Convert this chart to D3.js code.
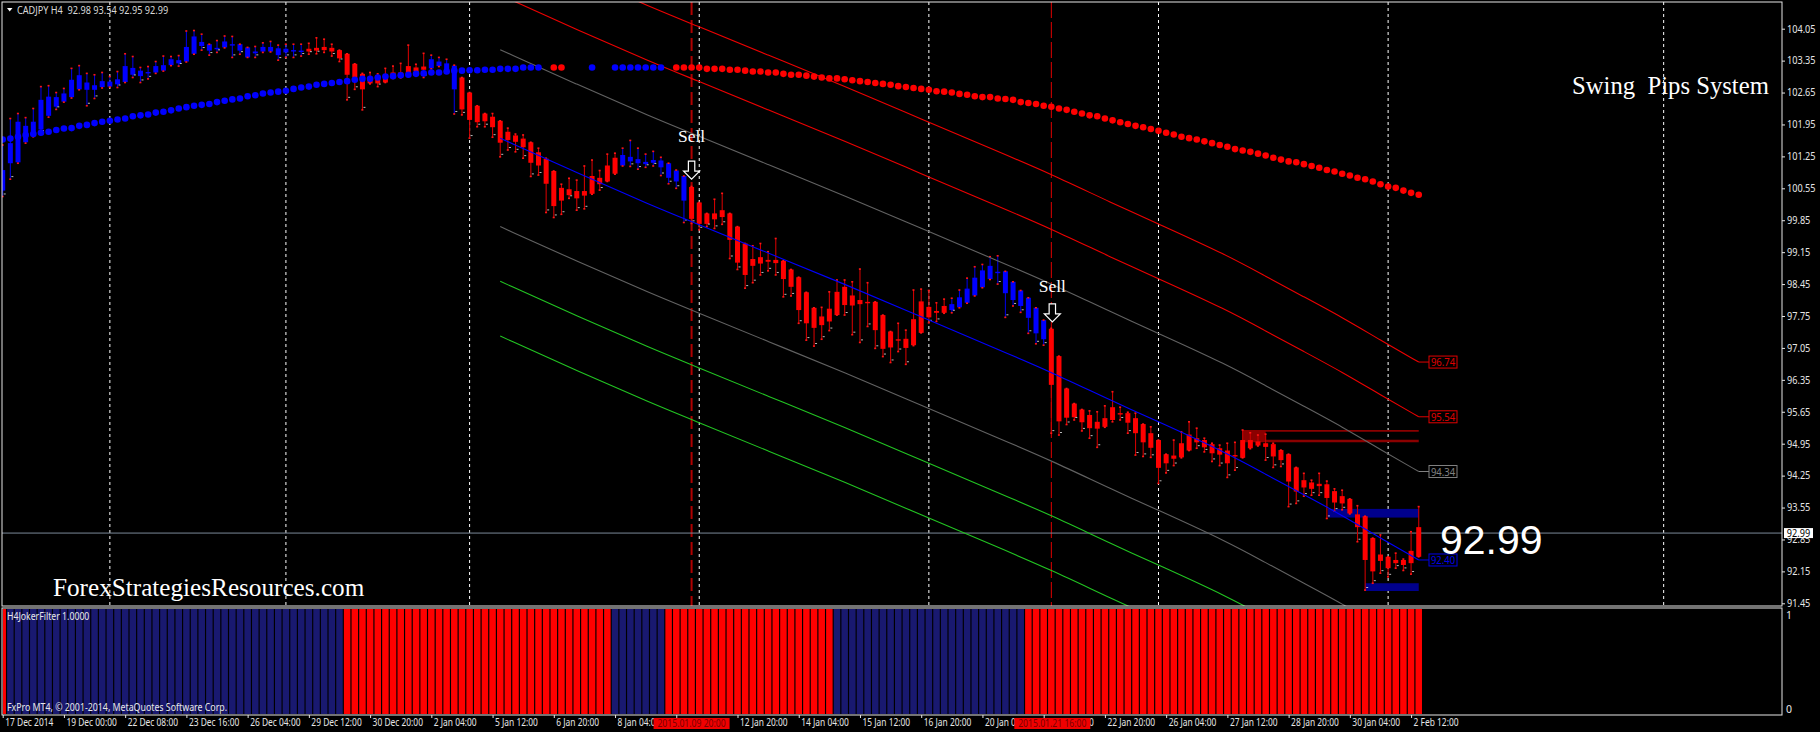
<!DOCTYPE html>
<html><head><meta charset="utf-8">
<script src="https://cdn.jsdelivr.net/npm/d3@7/dist/d3.min.js"></script>
<style>html,body{margin:0;background:#000;overflow:hidden}svg{display:block}text{white-space:pre}</style>
</head><body><svg id="c" width="1820" height="732"></svg>
<script>
// ---------- data ----------
const highs=[101.50,102.08,102.19,102.10,102.30,102.78,102.80,102.65,102.74,103.18,
103.24,103.07,103.04,103.09,103.00,103.11,103.50,103.44,103.20,103.22,
103.33,103.45,103.44,103.46,104.00,104.01,103.93,103.71,103.79,103.89,
103.88,103.71,103.64,103.66,103.74,103.77,103.69,103.71,103.71,103.71,
103.73,103.85,103.82,103.71,103.58,103.50,103.28,103.07,103.09,103.06,
103.18,103.23,103.29,103.69,103.27,103.51,103.47,103.42,103.38,103.25,
102.98,102.65,102.36,102.19,102.19,102.03,101.87,101.74,101.72,101.56,
101.43,101.21,100.93,100.64,100.77,100.73,101.04,101.17,100.94,101.30,
101.32,101.43,101.60,101.43,101.30,101.36,101.23,101.10,100.95,100.82,
100.59,100.24,100.00,100.31,100.44,100.00,99.71,99.34,99.29,99.34,
99.16,99.45,98.96,98.77,98.60,98.27,97.93,97.94,98.28,98.54,
98.54,98.50,98.78,98.48,98.06,97.77,97.41,97.59,97.44,98.32,
98.34,98.31,98.04,98.12,98.14,98.32,98.58,98.83,98.88,99.05,
99.07,98.73,98.50,98.31,98.15,97.93,97.66,97.48,96.87,96.16,
95.83,95.70,95.67,95.65,95.78,96.09,95.75,95.64,95.62,95.38,
95.32,95.03,94.72,95.03,95.21,95.43,95.29,95.07,94.96,94.92,
94.96,94.98,95.25,95.19,95.14,95.16,94.96,94.81,94.72,94.43,
94.30,94.15,94.30,94.13,93.96,93.93,93.74,93.59,93.36,92.88,
92.95,92.47,92.55,92.42,93.02,93.57];
const bodyTops=[100.95,101.54,102.01,101.92,102.01,102.49,102.56,102.55,102.63,102.93,
103.03,102.87,102.81,102.90,102.89,102.94,103.23,103.19,103.13,103.10,
103.23,103.25,103.38,103.36,103.65,103.88,103.76,103.71,103.63,103.77,
103.71,103.71,103.64,103.55,103.65,103.65,103.62,103.61,103.58,103.57,
103.61,103.63,103.65,103.63,103.58,103.50,103.28,103.06,102.96,102.94,
102.96,103.09,103.09,103.23,103.20,103.22,103.38,103.33,103.29,103.24,
102.98,102.65,102.36,102.19,102.12,102.03,101.79,101.71,101.64,101.56,
101.34,101.20,100.93,100.56,100.53,100.49,100.49,100.82,100.78,101.05,
101.22,101.28,101.24,101.19,101.13,101.17,101.16,101.10,100.94,100.82,
100.58,100.24,100.00,100.00,100.07,100.00,99.71,99.34,99.00,99.04,
98.98,98.98,98.96,98.77,98.60,98.27,97.93,97.74,97.91,98.28,
98.39,98.20,98.10,98.06,98.06,97.77,97.41,97.24,97.25,97.68,
98.07,97.95,97.86,97.97,98.01,98.16,98.35,98.59,98.75,98.85,
98.72,98.73,98.50,98.31,98.15,97.93,97.66,97.47,96.87,96.16,
95.83,95.70,95.58,95.43,95.51,95.75,95.62,95.62,95.51,95.38,
95.18,95.03,94.72,94.69,94.96,95.15,95.07,95.03,94.94,94.85,
94.80,94.70,95.03,95.03,95.00,94.96,94.94,94.81,94.72,94.43,
94.15,94.10,94.07,94.06,93.91,93.80,93.74,93.40,93.36,92.88,
92.52,92.47,92.40,92.40,92.60,93.12];
const bodyBottoms=[100.50,101.10,101.12,101.56,101.72,101.84,102.14,102.34,102.45,102.55,
102.72,102.71,102.71,102.77,102.78,102.83,102.88,103.04,103.01,103.07,
103.09,103.13,103.25,103.29,103.33,103.50,103.67,103.57,103.61,103.64,
103.69,103.57,103.42,103.51,103.55,103.55,103.47,103.53,103.55,103.55,
103.55,103.57,103.58,103.55,103.40,103.04,102.98,102.72,102.85,102.85,
102.87,102.98,102.98,103.01,103.12,103.15,103.18,103.23,103.13,102.72,
102.28,102.05,102.00,102.02,101.89,101.55,101.61,101.57,101.45,101.11,
101.05,100.65,100.16,100.28,100.40,100.33,100.39,100.43,100.64,100.70,
100.87,101.05,101.14,101.10,101.08,101.11,101.01,100.78,100.70,100.28,
99.88,99.77,99.77,99.87,99.92,99.42,98.92,98.65,98.85,98.90,
98.94,98.91,98.56,98.39,97.88,97.59,97.49,97.55,97.63,97.77,
97.99,97.98,98.01,98.04,97.44,97.03,97.06,97.21,97.05,97.11,
97.38,97.72,97.82,97.82,97.88,97.94,98.04,98.20,98.38,98.56,
98.71,98.25,98.10,97.97,97.71,97.37,97.24,96.24,95.44,95.52,
95.53,95.42,95.29,95.28,95.32,95.47,95.59,95.41,95.18,94.98,
94.86,94.42,94.52,94.62,94.65,94.80,94.98,94.87,94.74,94.71,
94.52,94.69,94.64,94.85,94.91,94.88,94.67,94.59,94.12,93.90,
93.99,93.96,94.02,93.76,93.66,93.64,93.42,93.12,92.40,92.15,
92.38,92.22,92.33,92.29,92.33,92.47];
const lows=[100.37,100.75,101.10,101.54,101.68,101.76,102.11,102.28,102.44,102.53,
102.71,102.36,102.52,102.75,102.77,102.76,102.87,102.98,102.87,102.95,
103.07,103.12,103.24,103.23,103.32,103.49,103.58,103.47,103.53,103.63,
103.42,103.49,103.42,103.42,103.53,103.54,103.36,103.42,103.42,103.45,
103.49,103.50,103.53,103.45,103.33,102.49,102.72,102.27,102.84,102.78,
102.87,102.96,102.97,103.00,103.04,102.98,103.17,103.22,103.12,102.18,
102.16,101.65,101.90,101.90,101.67,101.24,101.39,101.35,101.21,100.81,
100.84,100.02,99.91,99.98,100.33,100.07,100.10,100.42,100.51,100.70,
100.86,101.04,101.03,100.97,101.01,101.04,100.83,100.65,100.55,99.80,
99.78,99.64,99.71,99.67,99.76,99.01,98.77,98.36,98.48,98.65,
98.74,98.65,98.17,98.19,97.59,97.22,97.09,97.24,97.43,97.77,
97.77,97.34,97.17,97.52,97.04,96.86,96.73,96.97,96.69,97.10,
97.38,97.60,97.63,97.81,97.82,97.93,98.03,98.19,98.37,98.55,
98.45,97.72,97.97,97.83,97.37,97.14,97.11,95.18,95.14,95.37,
95.47,95.23,95.07,94.87,95.31,95.43,95.47,95.18,94.70,94.67,
94.65,94.08,94.31,94.47,94.64,94.80,94.85,94.77,94.56,94.47,
94.21,94.37,94.64,94.84,94.90,94.59,94.43,94.45,93.57,93.64,
93.80,93.82,93.82,93.31,93.47,93.50,93.41,92.80,91.74,91.89,
92.11,92.03,92.22,92.17,92.09,92.47];
// runs of candle colour: [first bar, last bar]
const blueCandleRuns=[[0,39],[56,59],[81,89],[124,136]];
// moving-average dots (null = no dot on that bar)
const dotValues=[101.62,101.64,101.68,101.72,101.74,101.77,101.79,101.83,101.86,101.87,
101.92,101.94,101.98,102.01,102.03,102.06,102.08,102.13,102.15,102.17,
102.21,102.23,102.26,102.30,102.33,102.36,102.38,102.40,102.44,102.47,
102.50,102.52,102.57,102.59,102.63,102.65,102.67,102.69,102.73,102.76,
102.78,102.82,102.84,102.86,102.88,102.90,102.93,102.95,102.95,102.98,
103.00,103.01,103.03,103.04,103.06,103.07,103.09,103.09,103.11,103.13,
103.13,103.14,103.14,103.15,103.15,103.17,103.17,103.17,103.20,103.20,
103.20,null,103.20,103.20,null,null,null,103.20,null,null,
103.20,103.20,103.20,103.20,103.20,103.20,103.20,null,103.20,103.20,
103.20,103.20,103.17,103.17,103.17,103.15,103.15,103.13,103.11,103.11,
103.09,103.09,103.06,103.04,103.04,103.02,103.00,102.98,102.96,102.96,
102.94,102.92,102.90,102.88,102.86,102.84,102.82,102.79,102.77,102.75,
102.73,102.71,102.68,102.67,102.65,102.62,102.60,102.57,102.55,102.55,
102.52,102.51,102.49,102.44,102.42,102.40,102.36,102.34,102.30,102.27,
102.23,102.19,102.15,102.13,102.08,102.04,102.00,101.96,101.92,101.89,
101.85,101.81,101.77,101.73,101.68,101.65,101.62,101.58,101.54,101.50,
101.46,101.41,101.38,101.35,101.31,101.27,101.22,101.18,101.14,101.12,
101.08,101.04,101.00,100.95,100.92,100.87,100.83,100.78,100.75,100.70,
100.64,100.59,100.56,100.50,100.45,100.41];
const blueDotRuns=[[0,70],[77,77],[80,86]];
// regression channel: centre line sampled on bars
const channelBars=[65,75,85,90,100,110,120,130,137,145,151,160,165,170,175,180,185];
const channelMid=[101.65,100.89,100.16,99.82,99.13,98.45,97.73,97.02,96.52,95.88,95.43,94.74,94.28,93.83,93.38,92.88,92.40];
const channelOffsets=[4.34,3.14,1.94,0,-1.94,-3.14,-4.34];
const channelColors=["#ee0000","#ee0000","#626262","#0000ff","#626262","#22c422","#22c422"];
const channelTags=["96.74","95.54","94.34","92.40"];
const tagColors=["#e00000","#e00000","#808080","#0000e8"];
const tagPrices=[96.74,95.54,94.34,92.40];
// filter histogram runs
const filterBlueRuns=[[1,44],[80,86],[109,133]];
const barCount=186;
// axes
const priceTicks=[104.05,103.35,102.65,101.95,101.25,100.55,99.85,99.15,98.45,97.75,97.05,96.35,95.65,94.95,94.25,93.55,92.85,92.15,91.45];
const timeLabels=["17 Dec 2014","19 Dec 00:00","22 Dec 08:00","23 Dec 16:00","26 Dec 04:00","29 Dec 12:00","30 Dec 20:00","2 Jan 04:00","5 Jan 12:00","6 Jan 20:00","8 Jan 04:00","9 Jan 12:00","12 Jan 20:00","14 Jan 04:00","15 Jan 12:00","16 Jan 20:00","20 Jan 04:00","21 Jan 12:00","22 Jan 20:00","26 Jan 04:00","27 Jan 12:00","28 Jan 20:00","30 Jan 04:00","2 Feb 12:00"];
const separatorBars=[14,37,61,91,121,151,181,217];
const signalBars=[90,137];
const signalLabels=["2015.01.09 20:00","2015.01.21 16:00"];
const signalArrowPrices=[100.75,97.62];
const signalTextPrices=[101.56,98.27];
const lastPrice=92.99;
const resistBand=[95.23,95.01], supplyBand=[93.52,93.33], demandBand=[91.89,91.72];

// ---------- layout ----------
const L=2.7,R=1781.7,T=2,MB=606,ST=608,SB=715,AX=1782;
const x=d3.scaleLinear().domain([0,232.42]).range([L,R]);
const y=d3.scaleLinear().domain([104.05,91.45]).range([28.7,603.3]);
const ySub=d3.scaleLinear().domain([1,0]).range([ST+1,SB-1]);
const svg=d3.select("#c");
const MONO="'Noto Sans',sans-serif";
const inRuns=(i,r)=>r.some(d=>i>=d[0]&&i<=d[1]);
const bars=d3.range(barCount);
// squeeze text horizontally: the reference uses a narrow UI face
const squeeze=(sel,r)=>sel.each(function(){
  d3.select(this).attr("textLength",this.getComputedTextLength()*r).attr("lengthAdjust","spacingAndGlyphs");
});
svg.append("rect").attr("width",1820).attr("height",732).attr("fill","#000");
const defs=svg.append("defs");
defs.append("clipPath").attr("id","mainClip").append("rect")
  .attr("x",2).attr("y",T).attr("width",AX-2).attr("height",MB-T);
defs.append("clipPath").attr("id","subClip").append("rect")
  .attr("x",3).attr("y",ST).attr("width",AX-3).attr("height",SB-ST);
const main=svg.append("g").attr("clip-path","url(#mainClip)");

// period separators
main.append("g").selectAll("line").data(separatorBars).join("line")
  .attr("x1",d=>x(d)).attr("x2",d=>x(d)).attr("y1",T).attr("y2",MB)
  .attr("stroke","#fff").attr("stroke-width",1).attr("stroke-dasharray","3,3");

// signal verticals
main.append("line").attr("x1",x(signalBars[0])).attr("x2",x(signalBars[0])).attr("y1",T).attr("y2",MB)
  .attr("stroke","#b00000").attr("stroke-width",2).attr("stroke-dasharray","13,5");
main.append("line").attr("x1",x(signalBars[1])).attr("x2",x(signalBars[1])).attr("y1",T).attr("y2",MB)
  .attr("stroke","#e00000").attr("stroke-width",1).attr("stroke-dasharray","16,4");

// price line
main.append("line").attr("x1",2).attr("x2",AX).attr("y1",y(lastPrice)).attr("y2",y(lastPrice))
  .attr("stroke","#7a8899").attr("stroke-width",1);

// zones
const xBand=x(185);
const band=(g,a,b,x0,fill)=>g.append("rect").attr("x",x0).attr("y",y(a)).attr("width",xBand-x0).attr("height",y(b)-y(a)).attr("fill",fill);
band(main,supplyBand[0],supplyBand[1],x(173)+1,"#00008c");
band(main,demandBand[0],demandBand[1],x(178),"#00008c");
const zoneStart=x(162),zoneEnd=x(165);
main.append("rect").attr("x",zoneStart).attr("y",y(resistBand[0])).attr("width",zoneEnd-zoneStart).attr("height",y(resistBand[1])-y(resistBand[0])).attr("fill","#8b0000");
[resistBand[0],resistBand[1]].forEach((p,k)=>main.append("line").attr("x1",zoneStart).attr("x2",xBand).attr("y1",y(p)).attr("y2",y(p)).attr("stroke","#8b0000").attr("stroke-width",k?2.4:1.6));

// candles
const gc=main.append("g");
const cBody=i=>inRuns(i,blueCandleRuns)?"#0000ff":"#ff0000";
const cWick=i=>inRuns(i,blueCandleRuns)?"#0000d8":"#cc0000";
gc.selectAll("line.w").data(bars).join("line").attr("class","w")
  .attr("x1",x).attr("x2",x).attr("y1",i=>y(highs[i])).attr("y2",i=>y(lows[i]))
  .attr("stroke",cWick).attr("stroke-width",1.1);
gc.selectAll("rect.b").data(bars).join("rect").attr("class","b")
  .attr("x",i=>x(i)-2.5).attr("width",5)
  .attr("y",i=>y(bodyTops[i])).attr("height",i=>Math.max(1.4,y(bodyBottoms[i])-y(bodyTops[i])))
  .attr("fill",cBody);
const endMark=(arr,off)=>gc.selectAll(null).data(bars).join("rect")
  .attr("x",i=>x(i)-1.1).attr("y",i=>y(arr[i])+off).attr("width",2).attr("height",1.6).attr("fill","#ff1414");
endMark(highs,-0.8);endMark(lows,-0.8);
gc.selectAll(null).data(bars).join("rect")
  .attr("x",i=>x(i)+1).attr("y",i=>y(lows[i])-3).attr("width",2).attr("height",0.9)
  .attr("fill",i=>bodyBottoms[i]-lows[i]>0.06?"#cfcfcf":"none");

// regression channel
const line=d3.line().curve(d3.curveBasis).x((d,k)=>x(channelBars[k])).y(d=>y(d));
channelOffsets.forEach((o,k)=>{
  main.append("path").attr("d",line(channelMid.map(v=>v+o))).attr("fill","none")
    .attr("stroke",channelColors[k]).attr("stroke-width",1.1);
});
// tags
const tagX0=1429,tagX1=1457;
tagPrices.forEach((p,k)=>{
  main.append("line").attr("x1",x(185)).attr("x2",tagX0).attr("y1",y(p)).attr("y2",y(p)).attr("stroke",tagColors[k]).attr("stroke-width",1);
  main.append("rect").attr("x",tagX0).attr("y",y(p)-6).attr("width",tagX1-tagX0).attr("height",12).attr("fill","#000").attr("stroke",tagColors[k]).attr("stroke-width",1);
  squeeze(main.append("text").attr("x",(tagX0+tagX1)/2).attr("y",y(p)+4).attr("text-anchor","middle")
    .attr("font-family",MONO).attr("font-size",11).attr("fill",tagColors[k]).text(channelTags[k]),0.86);
});

// dots
main.append("g").selectAll("circle").data(bars.filter(i=>dotValues[i]!==null)).join("circle")
  .attr("cx",x).attr("cy",i=>y(dotValues[i])).attr("r",3.3)
  .attr("fill",i=>inRuns(i,blueDotRuns)?"#0000ff":"#ff0000");

// sell signals
signalBars.forEach((b,k)=>{
  const cx=x(b)+(k?1:0), tip=y(signalArrowPrices[k]);
  main.append("text").attr("x",cx).attr("y",y(signalTextPrices[k])).attr("text-anchor","middle")
    .attr("font-family","'Liberation Serif',serif").attr("font-size",17.5).attr("fill","#fff").text("Sell");
  const p=d3.path(),hw=3.2,hh=8;
  p.moveTo(cx-hw,tip-18);p.lineTo(cx+hw,tip-18);p.lineTo(cx+hw,tip-8);p.lineTo(cx+hh,tip-8);
  p.lineTo(cx,tip);p.lineTo(cx-hh,tip-8);p.lineTo(cx-hw,tip-8);p.closePath();
  main.append("path").attr("d",p.toString()).attr("fill","#000").attr("stroke","#fff").attr("stroke-width",1.2);
});

// free text
main.append("text").attr("x",1572).attr("y",94).attr("font-family","'Liberation Serif',serif").attr("font-size",24.7).attr("fill","#fff").text("Swing  Pips System");
main.append("text").attr("x",53).attr("y",596).attr("font-family","'Liberation Serif',serif").attr("font-size",25.2).attr("fill","#fff").text("ForexStrategiesResources.com");
main.append("text").attr("x",1440).attr("y",554).attr("font-family","'Liberation Sans',sans-serif").attr("font-size",41).attr("fill","#fff").text("92.99");

// header
svg.append("path").attr("d",d3.line()([[7,8],[12.5,8],[9.7,11.5]])).attr("fill","#fff");
squeeze(svg.append("text").attr("x",17).attr("y",14).attr("font-family",MONO).attr("font-size",10.5).attr("fill","#d8d8d8").text("CADJPY H4  92.98 93.54 92.95 92.99"),0.87);

// filter histogram
svg.append("g").attr("clip-path","url(#subClip)").selectAll("rect").data(bars).join("rect")
  .attr("x",i=>x(i)-3.25).attr("width",6.5)
  .attr("y",ySub(1)).attr("height",ySub(0)-ySub(1))
  .attr("fill",i=>inRuns(i,filterBlueRuns)?"#191970":"#ff0000");
squeeze(svg.append("text").attr("x",7).attr("y",620).attr("font-family",MONO).attr("font-size",10).attr("fill","#e8e8e8").text("H4JokerFilter 1.0000"),0.87);
squeeze(svg.append("text").attr("x",7).attr("y",711).attr("font-family",MONO).attr("font-size",10).attr("fill","#e8e8e8").text("FxPro MT4, © 2001-2014, MetaQuotes Software Corp."),0.88);

// frames
[[T,MB],[ST,SB]].forEach(([a,b])=>svg.append("rect").attr("x",2).attr("y",a).attr("width",AX-2).attr("height",b-a)
  .attr("fill","none").attr("stroke","#e6e6e6").attr("stroke-width",1));

// price axis
const axP=d3.axisRight(y).tickValues(priceTicks).tickFormat(d3.format(".2f")).tickSize(3).tickPadding(2);
const gP=svg.append("g").attr("transform",`translate(${AX},0)`).call(axP);
gP.select(".domain").remove();
gP.selectAll("line").attr("stroke","#e6e6e6");
squeeze(gP.selectAll("text").attr("font-family",MONO).attr("font-size",10.5).attr("fill","#e6e6e6"),0.87);
const axS=d3.axisRight(ySub.copy().range([615,708.7])).tickValues([1,0]).tickFormat(d3.format("d")).tickSize(0).tickPadding(4);
const gS=svg.append("g").attr("transform",`translate(${AX},0)`).call(axS);
gS.select(".domain").remove();
gS.selectAll("text").attr("font-family",MONO).attr("font-size",10.5).attr("fill","#e6e6e6");

// last price tag
svg.append("rect").attr("x",1784).attr("y",y(lastPrice)-5).attr("width",29).attr("height",10).attr("fill","#fff");
squeeze(svg.append("text").attr("x",1798.5).attr("y",y(lastPrice)+4).attr("text-anchor","middle")
  .attr("font-family",MONO).attr("font-size",10.5).attr("fill","#000").text(lastPrice.toFixed(2)),0.87);

// time axis
const axT=d3.axisBottom(x).tickValues(timeLabels.map((d,k)=>k*8)).tickFormat((d,k)=>timeLabels[k]).tickSize(3);
const gT=svg.append("g").attr("transform",`translate(0,${SB})`).call(axT);
gT.select(".domain").remove();
gT.selectAll("line").attr("stroke","#e6e6e6");
squeeze(gT.selectAll("text").attr("text-anchor","start").attr("x",2).attr("y",4).attr("dy","0.71em")
  .attr("font-family",MONO).attr("font-size",10.5).attr("fill","#e6e6e6"),0.8);

// signal time tags (they sit on top of the labels beneath them, as in the reference)
signalBars.forEach((b,k)=>{
  const cx=x(b)+(k?1:0);
  svg.append("rect").attr("x",cx-38).attr("y",718).attr("width",76).attr("height",11).attr("fill","#f00000");
  squeeze(svg.append("text").attr("x",cx).attr("y",727).attr("text-anchor","middle")
    .attr("font-family",MONO).attr("font-size",10.5).attr("fill","#7a0000").text(signalLabels[k]),0.82);
});
</script></body></html>
